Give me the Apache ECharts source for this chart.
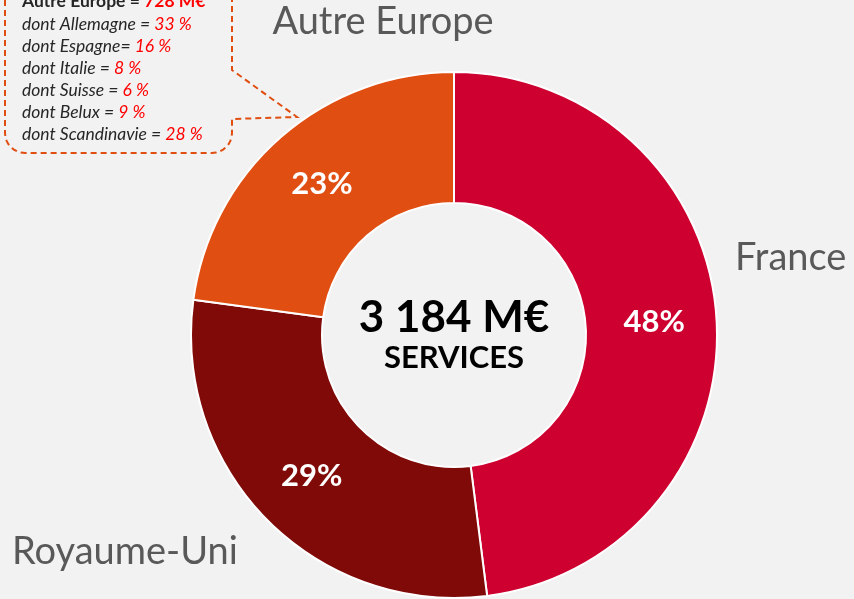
<!DOCTYPE html>
<html>
<head>
<meta charset="utf-8">
<script src="https://cdn.jsdelivr.net/npm/echarts@6/dist/echarts.min.js"></script>
<style>
  html, body { margin: 0; padding: 0; background: #f2f2f2; }
  #main { width: 854px; height: 599px; }
</style>
</head>
<body>
<div id="main"></div>
<script>
// data
var regions = ["France", "Royaume-Uni", "Autre Europe"];
var revenue = [1528, 928, 728]; // M€
var regionColors = ["#cd0030", "#7f0a07", "#e04e12"];
var totalLabel = "3 184 M€";
var totalSub = "SERVICES";

// detail of "Autre Europe"
var detailTitle = "Autre Europe = ";
var detailTotal = "728 M€";
var detailNames = ["dont Allemagne = ", "dont Espagne= ", "dont Italie = ", "dont Suisse = ", "dont Belux = ", "dont Scandinavie = "];
var detailShares = ["33 %", "16 %", "8 %", "6 %", "9 %", "28 %"];

// where the region names sit
var namePos = [
  { x: 735, y: 258, align: "left" },
  { x: 12, y: 552, align: "left" },
  { x: 383, y: 22, align: "center" }
];

var font = "Lato, 'Open Sans', sans-serif";
var chartDom = document.getElementById("main");
var myChart = echarts.init(chartDom);

var pieData = regions.map(function (name, i) {
  return { name: name, value: revenue[i], itemStyle: { color: regionColors[i] } };
});

// quarter arc points for the rounded corners of the callout
function corner(cx, cy, r, a0, a1) {
  var pts = [];
  for (var k = 0; k <= 8; k++) {
    var a = (a0 + (a1 - a0) * k / 8) * Math.PI / 180;
    pts.push([cx + r * Math.cos(a), cy + r * Math.sin(a)]);
  }
  return pts;
}
var calloutPts = [[5, -10]]
  .concat(corner(25, 133, 20, 180, 90))
  .concat(corner(212, 133, 20, 90, 0))
  .concat([[232, 119], [297, 117], [232, 70], [232, -10]]);

// callout box lines
var calloutTexts = [];
calloutTexts.push({
  type: "text",
  left: 22,
  top: -8,
  style: {
    text: "{a|" + detailTitle + "}{b|" + detailTotal + "}",
    rich: {
      a: { fontFamily: font, fontSize: 17.5, fontWeight: "bold", fill: "#262626" },
      b: { fontFamily: font, fontSize: 17.5, fontWeight: "bold", fill: "#ff0000" }
    }
  }
});
detailNames.forEach(function (n, i) {
  calloutTexts.push({
    type: "text",
    left: 22,
    top: 15 + i * 22,
    style: {
      text: "{a|" + n + "}{b|" + detailShares[i] + "}",
      rich: {
        a: { fontFamily: font, fontSize: 17.5, fontStyle: "italic", fill: "#262626" },
        b: { fontFamily: font, fontSize: 17.5, fontStyle: "italic", fill: "#ff0000" }
      }
    }
  });
});

var option = {
  backgroundColor: "#f2f2f2",
  animation: false,
  graphic: [
    {
      type: "polyline",
      shape: { points: calloutPts },
      style: { fill: null, stroke: "#e04e12", lineWidth: 2, lineDash: [6, 4] }
    },
    {
      type: "text",
      x: 454,
      y: 318,
      style: {
        text: totalLabel,
        font: "bold 44px " + font,
        fill: "#000",
        align: "center",
        verticalAlign: "middle"
      }
    },
    {
      type: "text",
      x: 454,
      y: 358,
      style: {
        text: totalSub,
        font: "bold 31px " + font,
        fill: "#000",
        align: "center",
        verticalAlign: "middle"
      }
    }
  ].concat(calloutTexts),
  series: [
    {
      // names outside
      type: "pie",
      silent: true,
      center: [454, 335],
      radius: [132, 263],
      startAngle: 90,
      z: 1,
      itemStyle: { color: "transparent", borderWidth: 0 },
      label: {
        show: true,
        position: "outside",
        formatter: "{b}",
        overflow: "none",
        fontFamily: font,
        fontSize: 38,
        color: "#595959"
      },
      labelLine: { show: false },
      labelLayout: function (params) {
        var p = namePos[params.dataIndex];
        return { x: p.x, y: p.y, align: p.align, verticalAlign: "middle" };
      },
      data: regions.map(function (name, i) {
        return { name: name, value: revenue[i] };
      })
    },
    {
      type: "pie",
      center: [454, 335],
      radius: [132, 263],
      startAngle: 90,
      z: 2,
      itemStyle: { borderColor: "#ffffff", borderWidth: 2 },
      label: {
        show: true,
        position: "inside",
        formatter: function (p) {
          return Math.round(p.percent) + "%";
        },
        fontFamily: font,
        fontSize: 31,
        fontWeight: "bold",
        color: "#ffffff"
      },
      labelLine: { show: false },
      emphasis: { disabled: true },
      data: pieData
    }
  ]
};

option && myChart.setOption(option);
</script>
</body>
</html>
